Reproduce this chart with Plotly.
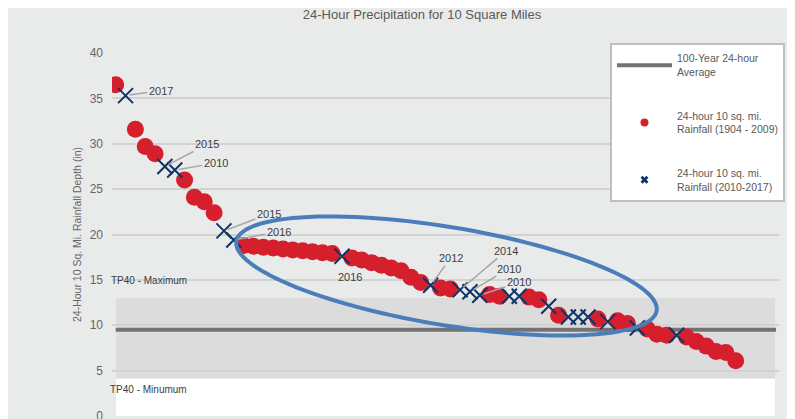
"""
24-hour precipitation for 10 square miles — ranked storm depths.
"""

import numpy as np
import plotly.graph_objects as go

# ── Data ────────────────────────────────────────────────────────────────────
# rank position of each storm (1 = largest) and its depth in inches
hist_rank = [1, 3, 4, 5, 8, 9, 10, 11,
             14, 15, 16, 17, 18, 19, 20, 21, 22, 23,
             25, 26, 27, 28, 29, 30, 31, 32,
             34, 35, 39, 40, 43, 44, 46, 50, 52, 53,
             55, 56, 57, 59, 60, 61, 62, 63, 64]
hist_depth = [36.5, 31.6, 29.7, 28.9, 26.0, 24.1, 23.6, 22.4,
              18.8, 18.7, 18.6, 18.5, 18.4, 18.3, 18.2, 18.1, 18.0, 17.9,
              17.4, 17.2, 16.9, 16.6, 16.3, 16.0, 15.3, 14.7,
              14.1, 14.0, 13.4, 13.2, 13.1, 12.8, 11.1, 10.7, 10.5, 10.2,
              9.6, 9.0, 8.9, 8.7, 8.2, 7.7, 7.1, 7.0, 6.1]

recent_rank = [2, 6, 7, 12, 13, 24, 33, 36, 37, 38,
               41, 42, 45, 47, 48, 49, 51, 54, 58]
recent_depth = [35.3, 27.5, 27.1, 20.4, 19.4, 17.6, 14.4, 13.9, 13.7, 13.3,
                13.2, 13.2, 12.1, 10.9, 10.9, 10.9, 10.4, 9.7, 8.9]
recent_year = ["2017", "2015", "2010", "2015", "2016", "2016", "2012",
               "2014", "2010", "2010", "", "", "", "", "", "", "", "", ""]

avg_depth = 9.5          # 100-year 24-hour average
tp40_max, tp40_min = 13.0, 4.1

# ── Geometry (page px; the page body adds an 8px offset) ───────────────────
W, H = 795, 419
OFF = 8
PL, PR, PT, PB = 112, 779, 53, 416          # plot area on the page
X0, X1 = 0.624, 68.4
Y0, Y1 = 0, 40


def px_to_data(px, py):
    x = X0 + (px - PL) / (PR - PL) * (X1 - X0)
    y = Y1 - (py - PT) / (PB - PT) * (Y1 - Y0)
    return x, y


RED = "#d61f2c"
NAVY = "#0e3468"
FONT = "Liberation Sans, Arial, sans-serif"

fig = go.Figure()

# ── 100-year average line ───────────────────────────────────────────────────
fig.add_trace(go.Scatter(
    x=[hist_rank[0], 68.1], y=[avg_depth, avg_depth],
    mode="lines", line=dict(color="#737373", width=4),
    showlegend=False, hoverinfo="skip",
))

# ── Storm points ────────────────────────────────────────────────────────────
fig.add_trace(go.Scatter(
    x=hist_rank, y=hist_depth, mode="markers",
    marker=dict(color=RED, size=17, line=dict(width=0)),
    showlegend=False,
))
fig.add_trace(go.Scatter(
    x=recent_rank, y=recent_depth, mode="markers",
    marker=dict(symbol="x-thin", size=15, color=NAVY,
                line=dict(color=NAVY, width=2)),
    showlegend=False,
))

# legend-only entries (small symbols like the original key)
fig.add_trace(go.Scatter(
    x=[None], y=[None], mode="lines", name="100-Year 24-hour<br>Average",
    line=dict(color="#737373", width=4), legendgroup="a",
))
fig.add_trace(go.Scatter(
    x=[None], y=[None], mode="markers",
    name="24-hour 10 sq. mi.<br>Rainfall (1904 - 2009)",
    marker=dict(color=RED, size=8), legendgroup="b",
))
fig.add_trace(go.Scatter(
    x=[None], y=[None], mode="markers",
    name="24-hour 10 sq. mi.<br>Rainfall (2010-2017)",
    marker=dict(symbol="x", size=7, color=NAVY), legendgroup="c",
))

# ── Year labels with leader lines ───────────────────────────────────────────
offsets = [(35, -5), (42, -22), (41, -7), (45, -17), (45, -8), None,
           (20, -27), (46, -39), (39, -23), (39, -13)]
for r, d, yr, off in zip(recent_rank, recent_depth, recent_year, offsets):
    if not yr:
        continue
    if off is None:
        fig.add_annotation(x=r, y=d, text=yr, showarrow=False,
                           xshift=8, yshift=-21,
                           font=dict(size=11, color="#404040"))
    else:
        fig.add_annotation(x=r, y=d, text=yr, showarrow=True,
                           ax=off[0], ay=off[1], arrowhead=0,
                           arrowwidth=1.5, arrowcolor="#a6a6a6", standoff=4,
                           font=dict(size=11, color="#404040"))

# ── TP40 bands ──────────────────────────────────────────────────────────────
fig.add_shape(type="rect", xref="paper", x0=0.006, x1=0.994,
              y0=tp40_min, y1=tp40_max, layer="below",
              fillcolor="#dcdcdc", line=dict(width=0))
fig.add_shape(type="rect", xref="paper", x0=0.006, x1=0.994,
              y0=0, y1=tp40_min, layer="below",
              fillcolor="#ffffff", line=dict(width=0))
fig.add_annotation(xref="paper", x=-0.005, y=14.9, text="TP40 - Maximum",
                   xanchor="left", showarrow=False,
                   font=dict(size=10, color="#404040"))
fig.add_annotation(xref="paper", x=-0.006, y=2.9, text="TP40 - Minumum",
                   xanchor="left", showarrow=False,
                   font=dict(size=10, color="#404040"))

# ── Highlight ellipse ───────────────────────────────────────────────────────
cx, cy, a, b, ang = 446.5, 276, 213, 49, np.deg2rad(9.4)
t = np.linspace(0, 2 * np.pi, 120)
ex = cx + a * np.cos(t) * np.cos(ang) - b * np.sin(t) * np.sin(ang)
ey = cy + a * np.cos(t) * np.sin(ang) + b * np.sin(t) * np.cos(ang)
pts = [px_to_data(u, v) for u, v in zip(ex, ey)]
path = "M " + " L ".join(f"{u:.3f},{v:.3f}" for u, v in pts) + " Z"
fig.add_shape(type="path", path=path, layer="above",
              line=dict(color="#4a7ebb", width=4))

# ── Layout ──────────────────────────────────────────────────────────────────
fig.update_layout(
    width=W, height=H,
    margin=dict(l=PL - OFF, r=W + OFF - PR, t=PT - OFF, b=H + OFF - PB,
                autoexpand=False),
    paper_bgcolor="#e9ebea", plot_bgcolor="#e9ebea",
    font=dict(family=FONT, color="#595959"),
    title=dict(text="24-Hour Precipitation for 10 Square Miles",
               x=(422 - OFF) / W, xanchor="center",
               y=1 - (14 - OFF) / H, yanchor="middle",
               font=dict(size=13, color="#595959")),
    xaxis=dict(range=[X0, X1], showgrid=False, zeroline=False,
               showticklabels=False, showline=False),
    yaxis=dict(range=[Y0, Y1], dtick=5, showgrid=True,
               gridcolor="#d2d2d2", gridwidth=1.5, zeroline=False,
               ticklabelstandoff=8,
               tickfont=dict(size=12, color="#666666"),
               title=dict(text="24-Hour 10 Sq. Mi. Rainfall Depth (in)",
                          font=dict(size=10.5, color="#666666"),
                          standoff=5)),
    legend=dict(x=(610 - PL) / (PR - PL), y=1 + (PT - 43) / (PB - PT),
                xanchor="left", yanchor="top",
                bgcolor="#ffffff", bordercolor="#bfbfbf", borderwidth=2,
                font=dict(size=10.5, color="#595959"),
                itemwidth=55, tracegroupgap=27, traceorder="grouped"),
    showlegend=True,
)

fig.write_html("out.html")
